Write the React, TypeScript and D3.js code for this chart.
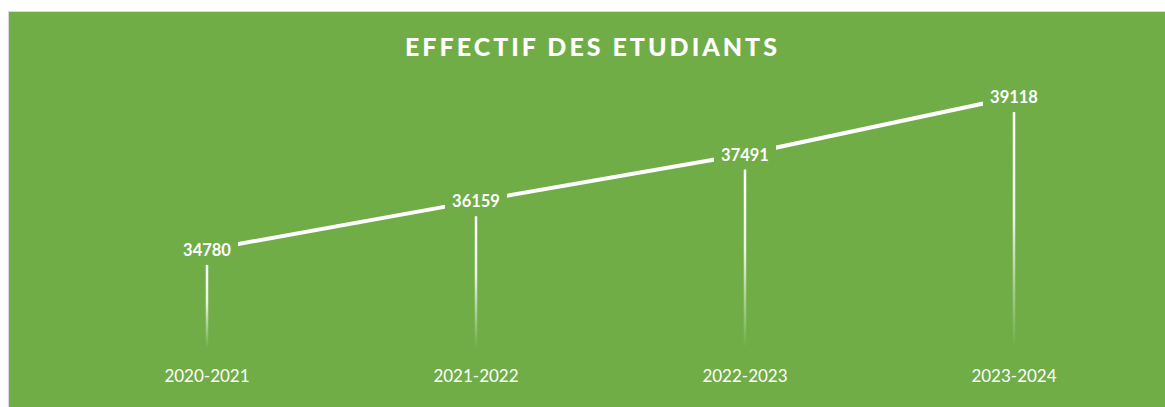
import React, { useEffect, useRef } from 'react';
import * as d3 from 'd3';

const categories = ['2020-2021', '2021-2022', '2022-2023', '2023-2024'];
const effectifs = [34780, 36159, 37491, 39118];
const chartTitle = 'EFFECTIF DES ETUDIANTS';

function App() {
  const ref = useRef<SVGSVGElement | null>(null);

  useEffect(() => {
    const width = 1165,
      height = 407;
    const plot = { left: 72.5, right: 1148.5, top: 66, bottom: 347.5 };

    const svg = d3.select(ref.current);
    svg.selectAll('*').remove();

    const defs = svg.append('defs');
    const grad = defs.append('linearGradient')
      .attr('id', 'drop-fade')
      .attr('x1', 0).attr('y1', 0).attr('x2', 0).attr('y2', 1);
    grad.append('stop').attr('offset', '0%').attr('stop-color', '#fff').attr('stop-opacity', 1);
    grad.append('stop').attr('offset', '45%').attr('stop-color', '#fff').attr('stop-opacity', 0.85);
    grad.append('stop').attr('offset', '100%').attr('stop-color', '#fff').attr('stop-opacity', 0);

    // chart area background
    svg.append('rect')
      .attr('x', 8.5)
      .attr('y', 11.5)
      .attr('width', width)
      .attr('height', height)
      .attr('fill', '#70AD47')
      .attr('stroke', '#D9D9D9')
      .attr('stroke-width', 1);

    const x = d3.scalePoint<string>()
      .domain(categories)
      .range([plot.left, plot.right])
      .padding(0.5);
    const y = d3.scaleLinear()
      .domain([32000, 40000])
      .range([plot.bottom, plot.top]);

    const data = categories.map((c, i) => ({ cat: c, value: effectifs[i] }));

    // title
    svg.append('text')
      .attr('x', 591)
      .attr('y', 56)
      .attr('text-anchor', 'middle')
      .attr('font-family', 'Lato, sans-serif')
      .attr('font-weight', 900)
      .attr('font-size', 25)
      .attr('fill', '#fff')
      .attr('textLength', 372)
      .attr('lengthAdjust', 'spacing')
      .text(chartTitle);

    // drop lines
    svg.selectAll('.drop')
      .data(data)
      .enter().append('rect')
      .attr('class', 'drop')
      .attr('x', d => (x(d.cat) as number) - 1.25)
      .attr('y', d => y(d.value) + 15)
      .attr('width', 2.5)
      .attr('height', d => plot.bottom - y(d.value) - 15)
      .attr('fill', 'url(#drop-fade)');

    // line
    const line = d3.line<{ cat: string; value: number }>()
      .x(d => x(d.cat) as number)
      .y(d => y(d.value));
    svg.append('path')
      .datum(data)
      .attr('d', line)
      .attr('fill', 'none')
      .attr('stroke', '#fff')
      .attr('stroke-width', 4)
      .attr('stroke-linejoin', 'round');

    // data labels with fill
    const labels = svg.selectAll('.lbl')
      .data(data)
      .enter().append('g')
      .attr('class', 'lbl')
      .attr('transform', d => `translate(${x(d.cat)},${y(d.value)})`);
    labels.append('rect')
      .attr('x', -31)
      .attr('y', -15)
      .attr('width', 62)
      .attr('height', 30)
      .attr('fill', '#70AD47');
    labels.append('text')
      .attr('text-anchor', 'middle')
      .attr('dy', '0.38em')
      .attr('font-family', 'Lato, sans-serif')
      .attr('font-weight', 700)
      .attr('font-size', 16.5)
      .attr('fill', '#fff')
      .text(d => d.value);

    // category axis labels
    svg.selectAll('.cat')
      .data(categories)
      .enter().append('text')
      .attr('class', 'cat')
      .attr('x', d => x(d) as number)
      .attr('y', 382)
      .attr('text-anchor', 'middle')
      .attr('font-family', 'Lato, sans-serif')
      .attr('font-size', 17)
      .attr('fill', '#fff')
      .text(d => d);
  }, []);

  return (
    <svg
      ref={ref}
      width={1165}
      height={407}
      style={{ position: 'absolute', left: 0, top: 0, background: '#fff' }}
    />
  );
}

export default App;
